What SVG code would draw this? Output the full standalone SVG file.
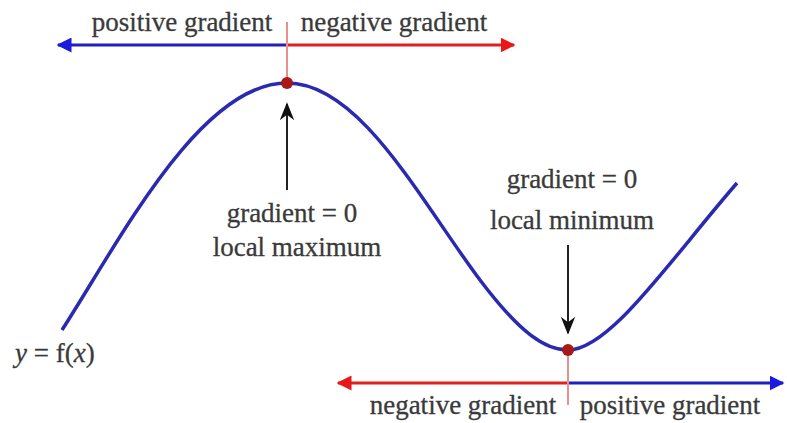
<svg xmlns="http://www.w3.org/2000/svg" width="787" height="423" viewBox="0 0 787 423">
<defs>
<marker id="hb" viewBox="0 0 10 10" refX="9" refY="5" markerWidth="5" markerHeight="5" orient="auto-start-reverse" markerUnits="strokeWidth"><path d="M0,0 L10,5 L0,10 z" fill="#1a1ae0"/></marker>
<marker id="hr" viewBox="0 0 10 10" refX="9" refY="5" markerWidth="5" markerHeight="5" orient="auto-start-reverse" markerUnits="strokeWidth"><path d="M0,0 L10,5 L0,10 z" fill="#e81818"/></marker>
<marker id="hk" viewBox="0 0 10 10" refX="9" refY="5" markerWidth="9" markerHeight="9" orient="auto" markerUnits="strokeWidth"><path d="M0,1 L10,5 L0,9 L3,5 z" fill="#111"/></marker>
</defs>
<style>
text{font-family:'Liberation Serif',serif;fill:#3a3a3a;font-size:27px;stroke:#3a3a3a;stroke-width:0.3}
.c{text-anchor:middle}
.b{stroke:#2020c0;stroke-width:3;fill:none}
.r{stroke:#e02020;stroke-width:3;fill:none}
.t{stroke:#e89090;stroke-width:2}
.k{stroke:#222;stroke-width:2;fill:none}
.dot{fill:#a81818}
</style>
<rect width="787" height="423" fill="#fff"/>
<g id="curve"><path d="M62,330 C120,240 200,83 287,83 C360,83 420,200 480,280 C520,333 545,350 568,350 C610,350 670,260 737,183" fill="none" stroke="#2a2ab0" stroke-width="3.5"/></g>
<g id="connectors">
<line class="b" x1="287" y1="45" x2="58" y2="45" marker-end="url(#hb)"/>
<line class="r" x1="287" y1="45" x2="514" y2="45" marker-end="url(#hr)"/>
<line class="t" x1="287" y1="22" x2="287" y2="78"/>
<line class="r" x1="568" y1="383" x2="338" y2="383" marker-end="url(#hr)"/>
<line class="b" x1="568" y1="383" x2="783" y2="383" marker-end="url(#hb)"/>
<line class="t" x1="568" y1="356" x2="568" y2="405"/>
<line class="k" x1="287" y1="190" x2="287" y2="104" marker-end="url(#hk)"/>
<line class="k" x1="568" y1="245" x2="568" y2="333" marker-end="url(#hk)"/>
</g>
<g id="max"><circle class="dot" cx="287" cy="83" r="6"/></g>
<g id="min"><circle class="dot" cx="568" cy="350" r="6"/></g>
<g id="labels">
<text x="182" y="31" class="c" font-family="Liberation Serif">positive gradient</text>
<text x="394" y="31" class="c" font-family="Liberation Serif">negative gradient</text>
<text x="292" y="222" class="c" font-family="Liberation Serif">gradient = 0</text>
<text x="297" y="256" class="c" font-family="Liberation Serif">local maximum</text>
<text x="572" y="188" class="c" font-family="Liberation Serif">gradient = 0</text>
<text x="572" y="229" class="c" font-family="Liberation Serif">local minimum</text>
<text x="463" y="414" class="c" font-family="Liberation Serif">negative gradient</text>
<text x="670" y="414" class="c" font-family="Liberation Serif">positive gradient</text>
<text x="15" y="362" font-size="29" font-family="Liberation Serif"><tspan font-style="italic">y</tspan> = f(<tspan font-style="italic">x</tspan>)</text>
</g>
</svg>
